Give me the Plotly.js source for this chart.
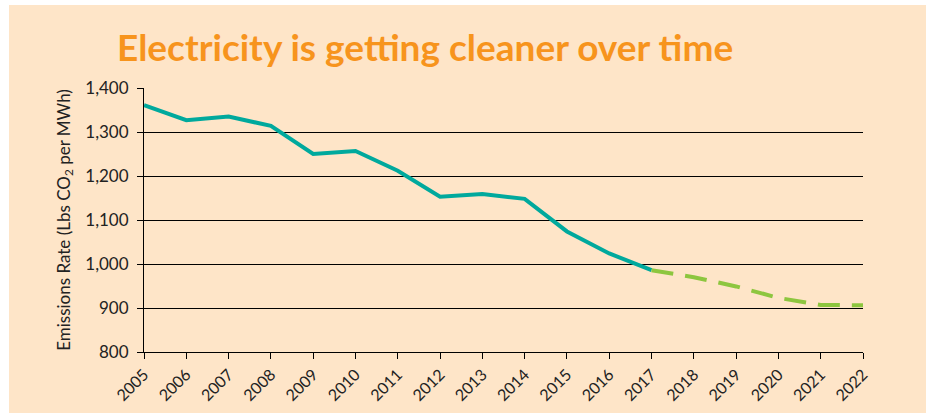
<!DOCTYPE html>
<html>
<head>
<meta charset="utf-8">
<script src="https://cdn.plot.ly/plotly-3.0.1.min.js"></script>
<style>
  html, body { margin: 0; padding: 0; background: #ffffff; }
  #chart { position: absolute; left: 9px; top: 5px; width: 917px; height: 408px; }
</style>
</head>
<body>
<div id="chart"></div>
<script>
const years = [2005, 2006, 2007, 2008, 2009, 2010, 2011, 2012, 2013, 2014, 2015, 2016, 2017, 2018, 2019, 2020, 2021, 2022];
const histYears = [2005, 2006, 2007, 2008, 2009, 2010, 2011, 2012, 2013, 2014, 2015, 2016, 2017];
const histValues = [1361, 1327, 1335, 1314, 1250, 1257, 1212, 1153, 1159, 1148, 1074, 1024, 986];
const projYears = [2017, 2018, 2019, 2020, 2021, 2022];
const projValues = [986, 970, 949, 923, 907, 906];
const yTicks = [800, 900, 1000, 1100, 1200, 1300, 1400];
const yTickLabels = ['800', '900', '1,000', '1,100', '1,200', '1,300', '1,400'];

const font = 'Lato, "Noto Sans", sans-serif';

const traces = [
  {
    x: histYears, y: histValues, type: 'scatter', mode: 'lines',
    line: { color: '#00A99D', width: 4 }, hoverinfo: 'skip'
  },
  {
    x: projYears, y: projValues, type: 'scatter', mode: 'lines',
    line: { color: '#8DC63F', width: 4, dash: '22px,12px' }, hoverinfo: 'skip'
  }
];

const layout = {
  width: 917, height: 408,
  paper_bgcolor: '#FEE5C8', plot_bgcolor: '#FEE5C8',
  margin: { l: 135, r: 63, t: 83, b: 61 },
  showlegend: false,
  font: { family: font, color: '#222222' },
  title: {
    text: '<b>Electricity is getting cleaner over time</b>',
    font: { family: font, size: 37, color: '#F7941D' },
    xref: 'container', yref: 'container',
    x: 0.4537, xanchor: 'center',
    y: 0.895, yanchor: 'middle'
  },
  xaxis: {
    range: [2005, 2022],
    tickvals: years, ticktext: years.map(String),
    tickangle: -45,
    ticks: 'outside', ticklen: 6, tickcolor: '#000', tickwidth: 1,
    showline: true, linecolor: '#000', linewidth: 1,
    showgrid: false, zeroline: false,
    tickfont: { family: font, size: 16, color: '#222' }
  },
  yaxis: {
    range: [800, 1400],
    tickvals: yTicks, ticktext: yTickLabels,
    ticks: 'outside', ticklen: 6, tickcolor: '#000', tickwidth: 1,
    ticklabelstandoff: 5,
    showline: true, linecolor: '#000', linewidth: 1,
    showgrid: true, gridcolor: '#000', gridwidth: 1,
    zeroline: false,
    tickfont: { family: font, size: 17, color: '#222' },
    title: {
      text: 'Emissions Rate (Lbs CO<sub>2</sub> per MWh)',
      font: { family: font, size: 17, color: '#222' },
      standoff: 10
    }
  }
};

Plotly.newPlot('chart', traces, layout, { displayModeBar: false, staticPlot: true });
</script>
</body>
</html>
